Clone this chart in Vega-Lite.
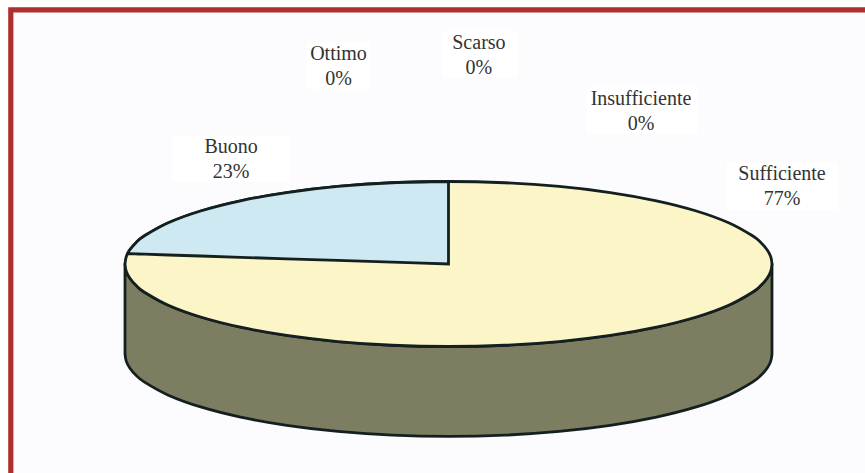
{
  "$schema": "https://vega.github.io/schema/vega-lite/v6.json",
  "width": 865,
  "height": 473,
  "padding": 0,
  "autosize": {"type": "none"},
  "background": "#ffffff",
  "config": {"view": {"stroke": null}},
  "datasets": {
    "frame": [{"x": -1.353, "x2": 1.33, "y": 3.081, "y2": -2.8}],
    "rim": [
      {"x": -1, "up": 0, "down": 0, "base": -1.09},
      {"x": -0.9962, "up": 0.0872, "down": -0.0872, "base": -1.1772},
      {"x": -0.9848, "up": 0.1736, "down": -0.1736, "base": -1.2636},
      {"x": -0.9659, "up": 0.2588, "down": -0.2588, "base": -1.3488},
      {"x": -0.9397, "up": 0.342, "down": -0.342, "base": -1.432},
      {"x": -0.866, "up": 0.5, "down": -0.5, "base": -1.59},
      {"x": -0.766, "up": 0.6428, "down": -0.6428, "base": -1.7328},
      {"x": -0.6428, "up": 0.766, "down": -0.766, "base": -1.856},
      {"x": -0.5, "up": 0.866, "down": -0.866, "base": -1.956},
      {"x": -0.342, "up": 0.9397, "down": -0.9397, "base": -2.0297},
      {"x": -0.1736, "up": 0.9848, "down": -0.9848, "base": -2.0748},
      {"x": 0, "up": 1, "down": -1, "base": -2.09},
      {"x": 0.1736, "up": 0.9848, "down": -0.9848, "base": -2.0748},
      {"x": 0.342, "up": 0.9397, "down": -0.9397, "base": -2.0297},
      {"x": 0.5, "up": 0.866, "down": -0.866, "base": -1.956},
      {"x": 0.6428, "up": 0.766, "down": -0.766, "base": -1.856},
      {"x": 0.766, "up": 0.6428, "down": -0.6428, "base": -1.7328},
      {"x": 0.866, "up": 0.5, "down": -0.5, "base": -1.59},
      {"x": 0.9397, "up": 0.342, "down": -0.342, "base": -1.432},
      {"x": 0.9659, "up": 0.2588, "down": -0.2588, "base": -1.3488},
      {"x": 0.9848, "up": 0.1736, "down": -0.1736, "base": -1.2636},
      {"x": 0.9962, "up": 0.0872, "down": -0.0872, "base": -1.1772},
      {"x": 1, "up": 0, "down": 0, "base": -1.09}
    ],
    "buono": [
      {"x": -0.9921, "edge": 0.1253, "chord": 0.1253},
      {"x": -0.9848, "edge": 0.1736, "chord": 0.1244},
      {"x": -0.9659, "edge": 0.2588, "chord": 0.122},
      {"x": -0.9397, "edge": 0.342, "chord": 0.1187},
      {"x": -0.866, "edge": 0.5, "chord": 0.1094},
      {"x": -0.766, "edge": 0.6428, "chord": 0.0967},
      {"x": -0.6428, "edge": 0.766, "chord": 0.0812},
      {"x": -0.5, "edge": 0.866, "chord": 0.0631},
      {"x": -0.342, "edge": 0.9397, "chord": 0.0432},
      {"x": -0.1736, "edge": 0.9848, "chord": 0.0219},
      {"x": 0, "edge": 1, "chord": 0}
    ],
    "labels": [
      {"label": "Buono\n23%", "share": 23, "x": -0.672, "y": 1.418, "left": -0.855, "right": -0.49, "top": 1.552, "bottom": 0.994},
      {"label": "Ottimo\n0%", "share": 0, "x": -0.34, "y": 2.545, "left": -0.437, "right": -0.24, "top": 2.691, "bottom": 2.121},
      {"label": "Scarso\n0%", "share": 0, "x": 0.094, "y": 2.678, "left": -0.017, "right": 0.212, "top": 2.824, "bottom": 2.255},
      {"label": "Insufficiente\n0%", "share": 0, "x": 0.595, "y": 2.0, "left": 0.428, "right": 0.768, "top": 2.145, "bottom": 1.576},
      {"label": "Sufficiente\n77%", "share": 77, "x": 1.031, "y": 1.091, "left": 0.861, "right": 1.201, "top": 1.236, "bottom": 0.655}
    ]
  },
  "encoding": {
    "x": {"type": "quantitative", "scale": {"domain": [-1.3864, 1.2875]}, "axis": null},
    "y": {"type": "quantitative", "scale": {"domain": [-2.5333, 3.2]}, "axis": null}
  },
  "layer": [
    {
      "description": "Red frame open towards the right and bottom edges",
      "data": {"name": "frame"},
      "mark": {"type": "rect", "fill": "#fcfcfe", "stroke": "#ad2f2e", "strokeWidth": 5.2, "clip": true},
      "encoding": {
        "x": {"field": "x"},
        "x2": {"field": "x2"},
        "y": {"field": "y"},
        "y2": {"field": "y2"}
      }
    },
    {
      "description": "White panels behind the labels",
      "data": {"name": "labels"},
      "mark": {"type": "rect", "fill": "#ffffff"},
      "encoding": {
        "x": {"field": "left"},
        "x2": {"field": "right"},
        "y": {"field": "top"},
        "y2": {"field": "bottom"}
      }
    },
    {
      "description": "Side wall of the disc",
      "data": {"name": "rim"},
      "mark": {"type": "area", "interpolate": "cardinal", "fill": "#7d7d61", "fillOpacity": 1, "stroke": "#14201f", "strokeWidth": 2.8, "strokeJoin": "round"},
      "encoding": {
        "x": {"field": "x"},
        "y": {"field": "down"},
        "y2": {"field": "base"}
      }
    },
    {
      "description": "Top face; Sufficiente takes whatever Buono does not cover",
      "data": {"name": "rim"},
      "mark": {"type": "area", "interpolate": "cardinal", "fill": "#fcf5c8", "fillOpacity": 1, "stroke": "#14201f", "strokeWidth": 2.8, "strokeJoin": "round"},
      "encoding": {
        "x": {"field": "x"},
        "y": {"field": "up"},
        "y2": {"field": "down"}
      }
    },
    {
      "description": "Buono slice, 23% of the turn counter-clockwise from twelve o'clock",
      "data": {"name": "buono"},
      "mark": {"type": "area", "interpolate": "cardinal", "fill": "#cfe9f2", "fillOpacity": 1, "stroke": "#14201f", "strokeWidth": 2.8, "strokeJoin": "miter"},
      "encoding": {
        "x": {"field": "x"},
        "y": {"field": "edge"},
        "y2": {"field": "chord"}
      }
    },
    {
      "data": {"name": "labels"},
      "mark": {"type": "text", "font": "Liberation Serif", "fontSize": 20, "lineHeight": 25, "lineBreak": "\n", "align": "center", "baseline": "middle", "color": "#333333"},
      "encoding": {
        "x": {"field": "x"},
        "y": {"field": "y"},
        "text": {"field": "label"}
      }
    }
  ]
}
